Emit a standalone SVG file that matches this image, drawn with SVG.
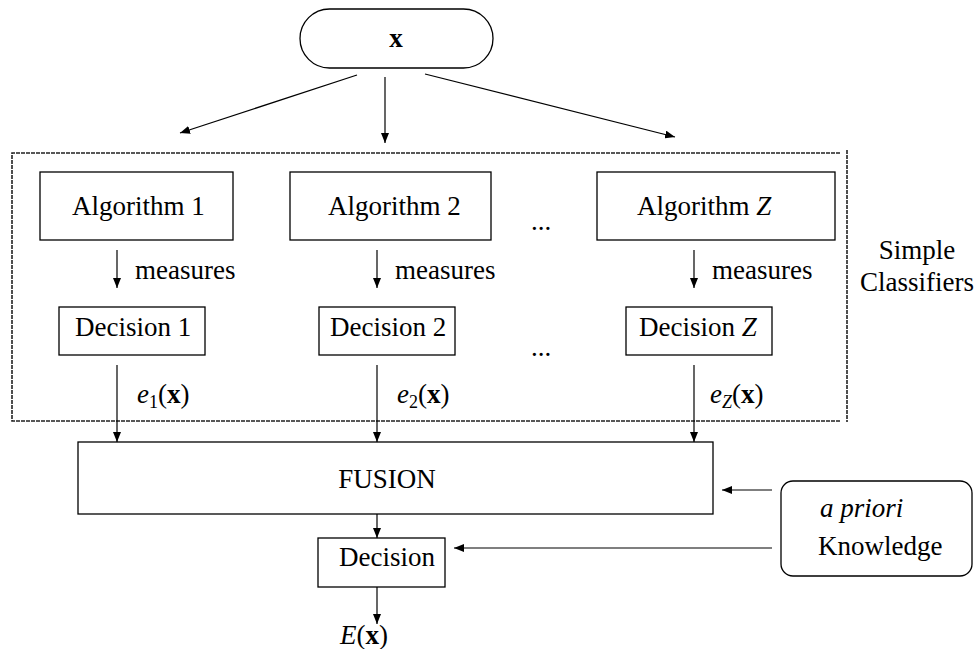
<svg xmlns="http://www.w3.org/2000/svg" width="974" height="649" viewBox="0 0 974 649" font-family="'Liberation Serif', 'Times New Roman', Tinos, 'DejaVu Serif', serif">
  <style>
    text { font-family: 'Liberation Serif', 'Times New Roman', Tinos, 'DejaVu Serif', serif; font-size: 27px; fill: #000; }
    .box { fill: #fff; stroke: #000; stroke-width: 1.3; }
    .edge { fill: none; stroke: #000; stroke-width: 1.2; }
    .dash { fill: none; stroke: #222; stroke-width: 1.6; stroke-dasharray: 4 1; }
    .it { font-style: italic; }
    .bf { font-weight: bold; }
    .sub { font-size: 18px; }
  </style>
  <defs>
    <marker id="arrow" viewBox="0 0 10 8" refX="10" refY="4" markerWidth="10" markerHeight="8" markerUnits="userSpaceOnUse" orient="auto">
      <path d="M0,0 L10,4 L0,8 Z" fill="#000"/>
    </marker>
  </defs>
  <rect width="974" height="649" fill="#fff"/>

  <!-- dashed frame around the simple classifiers -->
  <g id="classifiers-frame">
    <path class="dash" d="M840,153 H12 V421 H840"/>
    <path class="dash" d="M847,150 V422"/>
    <text x="917" y="259" text-anchor="middle">Simple</text>
    <text x="917" y="291" text-anchor="middle">Classifiers</text>
  </g>

  <g id="input">
    <rect class="box" x="300" y="9" width="193" height="59" rx="29.5"/>
    <text x="396" y="47" text-anchor="middle" class="bf">x</text>
  </g>

  <g id="algorithm1">
    <rect class="box" x="40" y="172" width="193" height="68"/>
    <text x="72" y="215">Algorithm 1</text>
  </g>
  <g id="algorithm2">
    <rect class="box" x="290" y="172" width="201" height="68"/>
    <text x="328" y="215">Algorithm 2</text>
  </g>
  <g id="algorithmZ">
    <rect class="box" x="597" y="172" width="238" height="68"/>
    <text x="637" y="215">Algorithm <tspan class="it">Z</tspan></text>
  </g>

  <g id="decision1">
    <rect class="box" x="59" y="307" width="146" height="48"/>
    <text x="75" y="336">Decision 1</text>
  </g>
  <g id="decision2">
    <rect class="box" x="319" y="307" width="136" height="48"/>
    <text x="330" y="336">Decision 2</text>
  </g>
  <g id="decisionZ">
    <rect class="box" x="626" y="307" width="146" height="48"/>
    <text x="639" y="336">Decision <tspan class="it">Z</tspan></text>
  </g>

  <g id="ellipses">
    <text x="541" y="230" text-anchor="middle">...</text>
    <text x="541" y="356" text-anchor="middle">...</text>
  </g>

  <g id="fusion">
    <rect class="box" x="78" y="442" width="635" height="72"/>
    <text x="387" y="488" text-anchor="middle">FUSION</text>
  </g>

  <g id="decision">
    <rect class="box" x="318" y="538" width="127" height="49"/>
    <text x="339" y="566">Decision</text>
  </g>

  <g id="knowledge">
    <rect class="box" x="781" y="481" width="191" height="95" rx="12"/>
    <text x="820" y="517" class="it">a priori</text>
    <text x="818" y="555">Knowledge</text>
  </g>

  <!-- connectors -->
  <g id="connectors">
    <line class="edge" x1="357" y1="75" x2="180" y2="133" marker-end="url(#arrow)"/>
    <line class="edge" x1="385" y1="77" x2="385" y2="143" marker-end="url(#arrow)"/>
    <line class="edge" x1="425" y1="74" x2="675" y2="137" marker-end="url(#arrow)"/>

    <line class="edge" x1="117" y1="250" x2="117" y2="288" marker-end="url(#arrow)"/>
    <line class="edge" x1="377" y1="250" x2="377" y2="288" marker-end="url(#arrow)"/>
    <line class="edge" x1="694" y1="250" x2="694" y2="288" marker-end="url(#arrow)"/>

    <line class="edge" x1="117" y1="365" x2="117" y2="442" marker-end="url(#arrow)"/>
    <line class="edge" x1="377" y1="365" x2="377" y2="442" marker-end="url(#arrow)"/>
    <line class="edge" x1="694" y1="365" x2="694" y2="442" marker-end="url(#arrow)"/>

    <line class="edge" x1="377" y1="514" x2="377" y2="538" marker-end="url(#arrow)"/>
    <line class="edge" x1="377" y1="587" x2="377" y2="624" marker-end="url(#arrow)"/>

    <line class="edge" x1="772" y1="490" x2="722" y2="490" marker-end="url(#arrow)"/>
    <line class="edge" x1="772" y1="548" x2="454" y2="548" marker-end="url(#arrow)"/>
  </g>

  <g id="labels">
    <text x="135" y="279">measures</text>
    <text x="395" y="279">measures</text>
    <text x="712" y="279">measures</text>
    <text x="137" y="403"><tspan class="it">e</tspan><tspan class="sub" dy="5">1</tspan><tspan dy="-5">(</tspan><tspan class="bf">x</tspan>)</text>
    <text x="397" y="403"><tspan class="it">e</tspan><tspan class="sub" dy="5">2</tspan><tspan dy="-5">(</tspan><tspan class="bf">x</tspan>)</text>
    <text x="710" y="403"><tspan class="it">e</tspan><tspan class="sub it" dy="5">Z</tspan><tspan dy="-5">(</tspan><tspan class="bf">x</tspan>)</text>
    <text x="340" y="644"><tspan class="it">E</tspan>(<tspan class="bf">x</tspan>)</text>
  </g>
</svg>
